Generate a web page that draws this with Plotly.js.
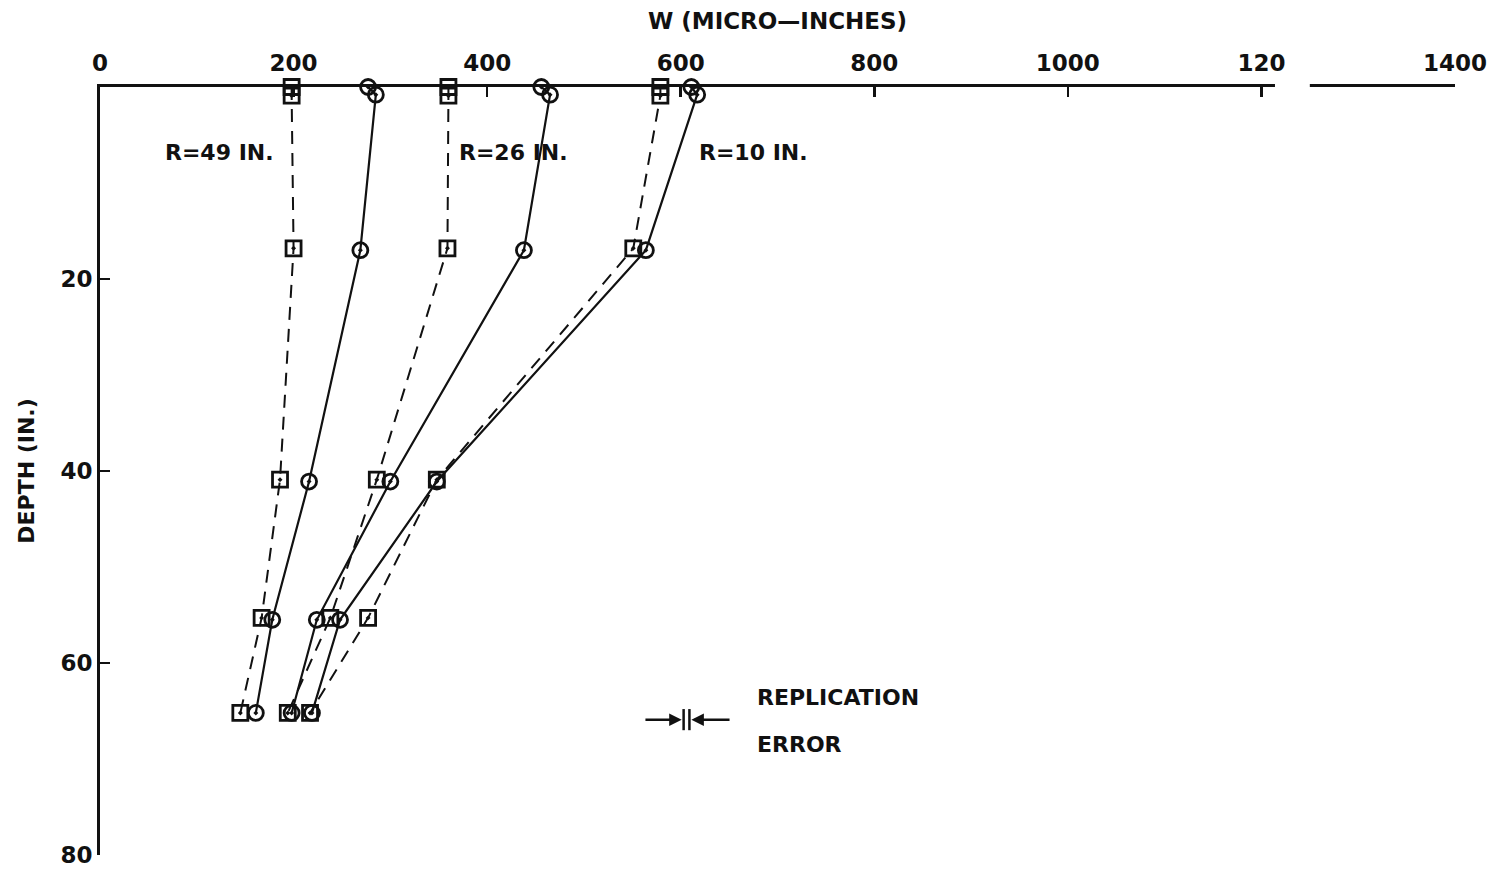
<!DOCTYPE html>
<html>
<head>
<meta charset="utf-8">
<script src="https://cdn.plot.ly/plotly-3.0.1.min.js"></script>
<style>html,body{margin:0;padding:0;background:#fff;}#chart{width:1497px;height:869px;}</style>
</head>
<body>
<div id="chart"></div>
<script>
// Depth (in.) of each reading
var depthSq = [0, 0.9, 16.8, 40.9, 55.3, 65.2];
var depthCi = [0, 0.8, 17.0, 41.1, 55.5, 65.2];
// Deflection W (micro-inches), squares = dashed, circles = solid
var r49Sq = [198, 198, 200, 186, 167, 145];
var r49Ci = [277, 285, 269, 216, 178, 161];
var r26Sq = [360, 360, 359, 286, 238, 194];
var r26Ci = [456, 465, 438, 300, 224, 198];
var r10Sq = [579, 579, 551, 348, 277, 217];
var r10Ci = [611, 617, 564, 348, 248, 219];
// Axis ticks
var xTickVals = [0, 200, 400, 600, 800, 1000, 1200, 1400];
var xTickText = ["0", "200", "400", "600", "800", "1000", "120", "1400"];
var yTickVals = [20, 40, 60, 80];
var yTickText = ["20", "40", "60", "80"];
// Curve labels
var labelText = ["R=49 IN.", "R=26 IN.", "R=10 IN."];
var labelX = [65, 369, 617];
var labelY = 6.8;

var F = "DejaVu Sans, sans-serif";
function sq(x, y) {
  return {x: x, y: y, type: "scatter", mode: "lines+markers", cliponaxis: false,
    line: {color: "#111", width: 2, dash: "13px,9px"},
    marker: {symbol: "square-open-dot", size: 15, color: "#111", line: {color: "#111", width: 2.8}},
    showlegend: false, hoverinfo: "x+y"};
}
function ci(x, y) {
  return {x: x, y: y, type: "scatter", mode: "lines+markers", cliponaxis: false,
    line: {color: "#111", width: 2.2},
    marker: {symbol: "circle-open-dot", size: 15, color: "#111", line: {color: "#111", width: 2.8}},
    showlegend: false, hoverinfo: "x+y"};
}
var data = [
  sq(r49Sq, depthSq), ci(r49Ci, depthCi),
  sq(r26Sq, depthSq), ci(r26Ci, depthCi),
  sq(r10Sq, depthSq), ci(r10Ci, depthCi)
];

var annotations = labelText.map(function (t, i) {
  return {x: labelX[i], y: labelY, xref: "x", yref: "y", text: "<b>" + t + "</b>", showarrow: false,
    xanchor: "left", yanchor: "middle", font: {family: F, size: 22, color: "#111"}};
});
annotations.push({x: 677, y: 63.6, xref: "x", yref: "y", text: "<b>REPLICATION</b>", showarrow: false,
  xanchor: "left", yanchor: "middle", font: {family: F, size: 22, color: "#111"}});
annotations.push({x: 677, y: 68.5, xref: "x", yref: "y", text: "<b>ERROR</b>", showarrow: false,
  xanchor: "left", yanchor: "middle", font: {family: F, size: 22, color: "#111"}});
// replication error arrows
annotations.push({x: 601, y: 65.9, ax: 562, ay: 65.9, xref: "x", yref: "y", axref: "x", ayref: "y",
  text: "", showarrow: true, arrowhead: 2, arrowsize: 1, arrowwidth: 2.5, arrowcolor: "#111"});
annotations.push({x: 611, y: 65.9, ax: 652, ay: 65.9, xref: "x", yref: "y", axref: "x", ayref: "y",
  text: "", showarrow: true, arrowhead: 2, arrowsize: 1, arrowwidth: 2.5, arrowcolor: "#111"});

var layout = {
  width: 1497, height: 869,
  margin: {l: 100, r: 42, t: 87, b: 14, pad: 0},
  paper_bgcolor: "#fff", plot_bgcolor: "#fff",
  font: {family: F, color: "#111"},
  xaxis: {
    side: "top", range: [0, 1400], showgrid: false, zeroline: false,
    showline: true, linecolor: "#111", linewidth: 3, mirror: false,
    tickmode: "array", tickvals: xTickVals, ticktext: xTickText,
    ticks: "inside", ticklen: 10, tickwidth: 2.5, tickcolor: "#111",
    ticklabelstandoff: 4,
    tickfont: {family: F, size: 23, color: "#111", weight: "bold"},
    title: {text: "<b>W (MICRO—INCHES)</b>", font: {family: F, size: 23, color: "#111"}, standoff: 14}
  },
  yaxis: {
    range: [80, 0], showgrid: false, zeroline: false,
    showline: true, linecolor: "#111", linewidth: 3,
    tickmode: "array", tickvals: yTickVals, ticktext: yTickText,
    ticks: "inside", ticklen: 10, tickwidth: 2.5, tickcolor: "#111",
    tickfont: {family: F, size: 23, color: "#111", weight: "bold"},
    title: {text: "<b>DEPTH (IN.)</b>", font: {family: F, size: 22, color: "#111"}, standoff: 20}
  },
  shapes: [
    {type: "rect", xref: "x", yref: "paper", x0: 1214, x1: 1250, y0: 0.985, y1: 1.015,
      fillcolor: "#fff", line: {width: 0}, layer: "above"},
    {type: "line", xref: "x", yref: "y", x0: 603, x1: 603, y0: 64.8, y1: 67.0,
      line: {color: "#111", width: 2.5}},
    {type: "line", xref: "x", yref: "y", x0: 609, x1: 609, y0: 64.8, y1: 67.0,
      line: {color: "#111", width: 2.5}}
  ],
  annotations: annotations
};
Plotly.newPlot("chart", data, layout, {displayModeBar: false, staticPlot: true});
</script>
</body>
</html>
